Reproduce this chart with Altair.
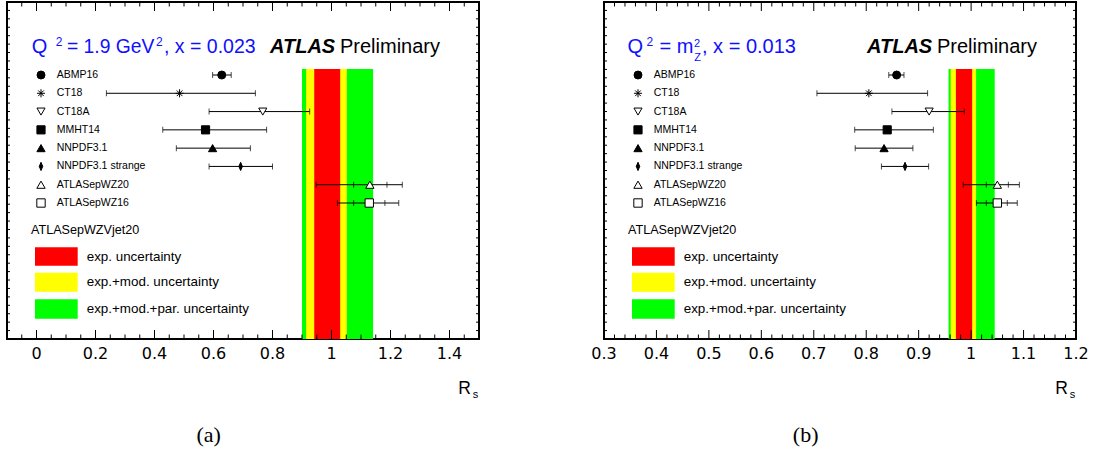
import altair as alt
import pandas as pd
import numpy as np

W, H = 472, 337

names = ["ABMP16", "CT18", "CT18A", "MMHT14", "NNPDF3.1", "NNPDF3.1 strange",
         "ATLASepWZ20", "ATLASepWZ16"]

# panel (a): Q^2 = 1.9 GeV^2, x = 0.023
a_center = [0.628, 0.485, 0.767, 0.573, 0.597, 0.692, 1.130, 1.128]
a_lo = [0.597, 0.237, 0.585, 0.428, 0.474, 0.585, 0.948, 1.020]
a_hi = [0.660, 0.742, 0.926, 0.780, 0.725, 0.800, 1.240, 1.228]
a_inner_lo = [None, None, None, None, None, None, 1.075, 1.075]
a_inner_hi = [None, None, None, None, None, None, 1.188, 1.181]
a_band_lo = [0.900, 0.914, 0.9415]
a_band_hi = [1.141, 1.052, 1.0295]

# panel (b): Q^2 = m_Z^2, x = 0.013
b_center = [0.858, 0.805, 0.920, 0.840, 0.834, 0.874, 1.050, 1.050]
b_lo = [0.843, 0.706, 0.849, 0.778, 0.779, 0.829, 0.985, 1.010]
b_hi = [0.872, 0.917, 0.987, 0.928, 0.889, 0.919, 1.092, 1.088]
b_inner_lo = [None, None, None, None, None, None, 1.029, 1.029]
b_inner_hi = [None, None, None, None, None, None, 1.071, 1.069]
b_band_lo = [0.957, 0.961, 0.971]
b_band_hi = [1.045, 1.0095, 1.002]

band_names = ["exp.+mod.+par. uncertainty", "exp.+mod. uncertainty", "exp. uncertainty"]
band_colors = ["#00ff00", "#ffff00", "#ff0000"]

a_major = [0, 0.2, 0.4, 0.6, 0.8, 1, 1.2, 1.4]
b_major = [0.3, 0.4, 0.5, 0.6, 0.7, 0.8, 0.9, 1, 1.1, 1.2]

AST = "M-1,0L1,0M0,-1L0,1M-0.7,-0.7L0.7,0.7M-0.7,0.7L0.7,-0.7"
DIAM = "M0,-1L0.42,0L0,1L-0.42,0Z"
shapes = ["circle", AST, "triangle-down", "square", "triangle-up", DIAM, "triangle-up", "square"]
fills = ["black", "black", "white", "black", "black", "black", "white", "white"]
sizes = [64, 70, 60, 70, 44, 44, 64, 68]

BLUE = "#1010ff"
FONT = "Liberation Sans"


def txt(text, x, y, size, color="black", weight="normal", style="normal",
        font=FONT, align="left", baseline="alphabetic"):
    return alt.Chart(pd.DataFrame({"t": [text]})).mark_text(
        align=align, baseline=baseline, fontSize=size, font=font,
        fontWeight=weight, fontStyle=style, color=color
    ).encode(text="t:N", x=alt.value(x), y=alt.value(y))


def panel(center, lo, hi, ilo, ihi, blo, bhi, domain, major, minor_step, title_parts, caption):
    xs = alt.Scale(domain=domain, nice=False, zero=False)
    ys = alt.Scale(type="point", domain=names, range=[73, 201], padding=0)
    minor = [round(v, 3) for v in np.arange(domain[0], domain[1] + 1e-9, minor_step)]
    minor = [v for v in minor if all(abs(v - m) > 1e-6 for m in major)]

    bands = pd.DataFrame({"band": band_names, "lo": blo, "hi": bhi})
    band_layer = alt.Chart(bands).mark_rect().encode(
        x=alt.X("lo:Q", scale=xs, axis=None),
        x2="hi:Q",
        y=alt.value(67), y2=alt.value(H),
        color=alt.Color("band:N", scale=alt.Scale(domain=band_names, range=band_colors), legend=None),
    )

    pts = pd.DataFrame({"name": names, "c": center, "lo": lo, "hi": hi, "ilo": ilo, "ihi": ihi})
    base = alt.Chart(pts)
    bars = base.mark_rule(color="black", strokeWidth=1).encode(
        x=alt.X("lo:Q", scale=xs, axis=None), x2="hi:Q",
        y=alt.Y("name:N", scale=ys, axis=None))
    caps = []
    for f in ["lo", "hi", "ilo", "ihi"]:
        caps.append(base.transform_filter(f"isValid(datum.{f})").mark_tick(
            color="black", thickness=1, size=6).encode(
            x=alt.X(f"{f}:Q", scale=xs, axis=None),
            y=alt.Y("name:N", scale=ys, axis=None)))
    markers = base.mark_point(filled=True, opacity=1, strokeWidth=1).encode(
        x=alt.X("c:Q", scale=xs, axis=None),
        y=alt.Y("name:N", scale=ys, axis=None),
        shape=alt.Shape("name:N", scale=alt.Scale(domain=names, range=shapes), legend=None),
        fill=alt.Fill("name:N", scale=alt.Scale(domain=names, range=fills), legend=None),
        size=alt.Size("name:N", scale=alt.Scale(domain=names, range=sizes), legend=None),
        stroke=alt.value("black"),
    )
    leg_markers = base.mark_point(filled=True, opacity=1, strokeWidth=1).encode(
        x=alt.value(34),
        y=alt.Y("name:N", scale=ys, axis=None),
        shape=alt.Shape("name:N", scale=alt.Scale(domain=names, range=shapes), legend=None),
        fill=alt.Fill("name:N", scale=alt.Scale(domain=names, range=fills), legend=None),
        size=alt.Size("name:N", scale=alt.Scale(domain=names, range=[s * 0.75 for s in sizes]), legend=None),
        stroke=alt.value("black"),
    )
    leg_text = base.mark_text(align="left", baseline="middle", fontSize=10.5, font=FONT, color="black").encode(
        x=alt.value(49.7), y=alt.Y("name:N", scale=ys, axis=None), text="name:N")

    # axis tick marks (inside the frame) and tick labels
    maj = alt.Chart(pd.DataFrame({"v": major}))
    mnr = alt.Chart(pd.DataFrame({"v": minor}))
    tick_layers = [
        maj.mark_rule(color="black", strokeWidth=1).encode(
            x=alt.X("v:Q", scale=xs, axis=None), y=alt.value(H), y2=alt.value(H - 9)),
        maj.mark_rule(color="black", strokeWidth=1).encode(
            x=alt.X("v:Q", scale=xs, axis=None), y=alt.value(0), y2=alt.value(9)),
        mnr.mark_rule(color="black", strokeWidth=1).encode(
            x=alt.X("v:Q", scale=xs, axis=None), y=alt.value(H), y2=alt.value(H - 4.5)),
        mnr.mark_rule(color="black", strokeWidth=1).encode(
            x=alt.X("v:Q", scale=xs, axis=None), y=alt.value(0), y2=alt.value(4.5)),
        maj.transform_calculate(lab="'' + datum.v").mark_text(
            font="DejaVu Sans", fontSize=16, color="black", baseline="middle", align="center").encode(
            x=alt.X("v:Q", scale=xs, axis=None), y=alt.value(H + 15), text="lab:N"),
    ]
    yt = alt.Chart(pd.DataFrame({"v": list(range(1, 40))}))
    yscale = alt.Scale(domain=[0, 40], nice=False, zero=False)
    ytick_layers = [
        yt.mark_rule(color="black", strokeWidth=1).encode(
            y=alt.Y("v:Q", scale=yscale, axis=None), x=alt.value(0), x2=alt.value(3)),
        yt.mark_rule(color="black", strokeWidth=1).encode(
            y=alt.Y("v:Q", scale=yscale, axis=None), x=alt.value(W - 3), x2=alt.value(W)),
    ]

    texts = [txt(*p[:4], **p[4]) for p in title_parts]
    texts += [
        txt("ATLASepWZVjet20", 24, 228, 12.6, baseline="middle"),
        txt("R", 451.3, 392.3, 17.5),
        txt("s", 465.7, 396.3, 11),
        txt(caption, 201.7, 440, 22, font="Liberation Serif", align="center"),
    ]
    box_y = [(245.3, 263.7), (270.7, 289.7), (297.3, 316.7)]
    box_labels = ["exp. uncertainty", "exp.+mod. uncertainty", "exp.+mod.+par. uncertainty"]
    box_cols = ["#ff0000", "#ffff00", "#00ff00"]
    boxes = []
    for (y0, y1), lab, col in zip(box_y, box_labels, box_cols):
        boxes.append(alt.Chart(pd.DataFrame({"t": [lab]})).mark_rect(color=col).encode(
            x=alt.value(28), x2=alt.value(70.7), y=alt.value(y0), y2=alt.value(y1)))
        boxes.append(txt(lab, 79.7, (y0 + y1) / 2, 13.4, baseline="middle"))

    layers = [band_layer, bars] + caps + [markers, leg_markers, leg_text] + tick_layers + ytick_layers + texts + boxes
    return alt.layer(*layers).resolve_scale(y="independent").properties(width=W, height=H)


left_title = [
    ("Q", 24.7, 50.5, 20, dict(color=BLUE)),
    ("2", 48.7, 43.7, 12, dict(color=BLUE)),
    ("= 1.9 GeV", 60.0, 50.5, 19.3, dict(color=BLUE)),
    ("2", 149.0, 43.7, 12, dict(color=BLUE)),
    (", x = 0.023", 157.0, 50.5, 19.5, dict(color=BLUE)),
    ("ATLAS", 263, 50.5, 20, dict(weight="bold", style="italic")),
    ("Preliminary", 333, 50.5, 20, dict()),
]
right_title = [
    ("Q", 23.5, 50.5, 20, dict(color=BLUE)),
    ("2", 42.6, 43.7, 12, dict(color=BLUE)),
    ("= m", 55.5, 50.5, 20, dict(color=BLUE)),
    ("2", 90.1, 44.5, 11, dict(color=BLUE)),
    ("Z", 90.2, 58.6, 11, dict(color=BLUE)),
    (", x = 0.013", 98, 50.5, 20, dict(color=BLUE)),
    ("ATLAS", 263, 50.5, 20, dict(weight="bold", style="italic")),
    ("Preliminary", 333, 50.5, 20, dict()),
]

pa = panel(a_center, a_lo, a_hi, a_inner_lo, a_inner_hi, a_band_lo, a_band_hi,
           [-0.1, 1.5], a_major, 0.05, left_title, "(a)")
pb = panel(b_center, b_lo, b_hi, b_inner_lo, b_inner_hi, b_band_lo, b_band_hi,
           [0.3, 1.2], b_major, 0.02, right_title, "(b)")

chart = alt.hconcat(pa, pb, spacing=125, bounds="flush").resolve_scale(
    color="independent", fill="independent", shape="independent", size="independent"
).properties(
    padding={"left": 5, "top": 0, "right": 5, "bottom": 0},
    background="white",
).configure_view(stroke="black", strokeWidth=2)

chart.save("out.html", embed_options={"renderer": "svg", "actions": False})
